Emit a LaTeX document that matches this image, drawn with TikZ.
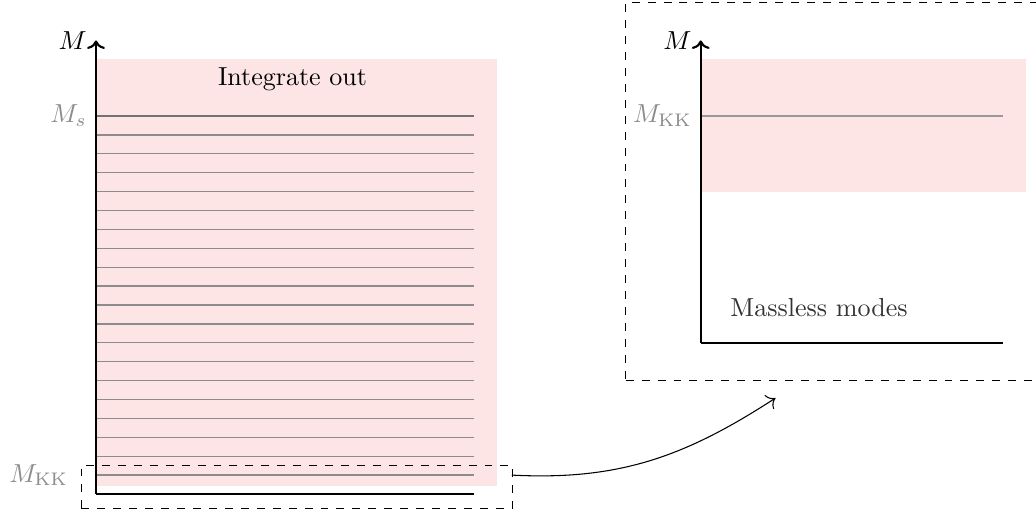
\documentclass[tikz,border=0pt]{standalone}
\usetikzlibrary{arrows.meta}
\definecolor{pinkfill}{RGB}{253,229,229}
\definecolor{levelgray}{RGB}{140,140,140}
\definecolor{labelgray}{RGB}{140,140,140}
\tikzset{
  axisline/.style={line width=1.6pt, black},
  axisarrow/.style={line width=1.6pt, black, -{To[scale=1.25]}},
  level/.style={line width=1pt, levelgray},
  zoomframe/.style={draw=black, line width=0.8pt, dash pattern=on 6pt off 6pt, inner sep=0pt},
  bigtext/.style={font=\normalsize, scale=1.96},
  graylabel/.style={bigtext, text=labelgray},
}
\begin{document}
\begin{tikzpicture}
\useasboundingbox (-2.54,-0.53) rectangle (24.87,13.07);
% ---------- left panel ----------
\fill[pinkfill] (0,0.2) rectangle (10.6,11.5);
\foreach \k in {1,...,19} {
  \draw[level] (0,0.5*\k) -- (10,0.5*\k);
}
\draw[level, line width=1.3pt, black!55] (0,10) -- (10,10);
\draw[axisarrow] (0,0) -- (0,12);
\draw[axisline] (0,0) -- (10,0);
\node[bigtext, left] (Ml) at (0,12) {$M$};
\node[graylabel, left] (Ms) at (0,10) {$M_s$};
\node[bigtext] (intout) at (5.2,10.97) {Integrate out};
\node[zoomframe, anchor=south west, minimum width=11.4cm, minimum height=1.15cm] (zoombox) at (-0.4,-0.4) {};
\node[graylabel, anchor=east] (MKKl) at (-0.5,0.5) {$M_{\mathrm{KK}}$};
% ---------- right panel ----------
\begin{scope}[shift={(16,4)}]
\node[zoomframe, anchor=south west, minimum width=11cm, minimum height=10cm] (panel) at (-2,-1) {};
\fill[pinkfill] (0,4) rectangle (8.6,7.5);
\draw[level, black!40] (0,6) -- (8,6);
\draw[axisarrow] (0,0) -- (0,8);
\draw[axisline] (0,0) -- (8,0);
\node[bigtext, left] (Mr) at (0,8) {$M$};
\node[graylabel, left] (MKKr) at (0,6) {$M_{\mathrm{KK}}$};
\node[bigtext, text=black!80] (massless) at (3.13,0.93) {Massless modes};
\end{scope}
% ---------- connector ----------
\coordinate (arrstart) at (11,0.5);
\coordinate (arrend) at (17.98,2.54);
\draw[line width=0.8pt, -{To[scale=1.8]}] (arrstart) to[out=-3,in=213] (arrend);
\end{tikzpicture}
\end{document}
